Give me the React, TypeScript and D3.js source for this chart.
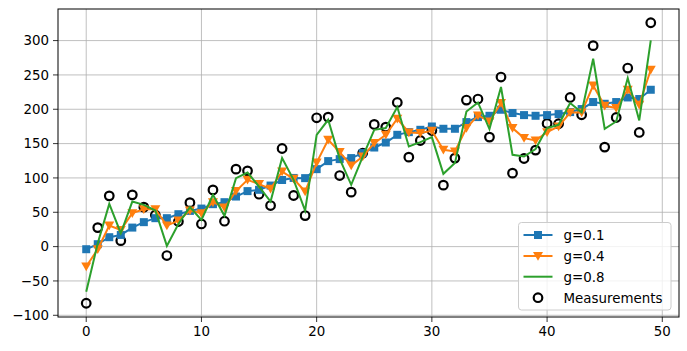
import React from 'react';
import * as d3 from 'd3';

// values
const measurements = [
  -82.5, 27.7, 73.9, 8.7, 75.4, 57.4, 46, -13, 36.5, 64,
  33, 82.6, 37, 112.8, 110.3, 76.3, 59.8, 142.9, 74.4, 45.2,
  187.6, 188.6, 103.5, 79.3, 136.2, 177.9, 174, 209.9, 130.3, 154.5,
  169, 89.5, 128.9, 213.4, 214.9, 159.5, 246.9, 107, 128.3, 140.5,
  179.3, 178.9, 217.2, 192, 292.6, 144.9, 188, 260, 166.2, 326,
];
const g01 = [
  -3.8, 3.5, 13.7, 17, 27.7, 35.6, 41.4, 41.4, 47.2, 52,
  55.4, 61.8, 64.7, 72.9, 80.8, 82.7, 88.9, 97, 100, 99.7,
  112.8, 124.5, 127.4, 128.9, 136.2, 144.3, 151.6, 162.8, 166.7, 170.1,
  174.9, 171.6, 171.6, 181.3, 188.6, 190.5, 199.3, 194.5, 191.5, 190.5,
  191.5, 193, 195.9, 200.3, 210.5, 208, 210.5, 217.2, 214.9, 228.4,
];
const g04 = [
  -29, -3.8, 30.6, 24.3, 48.7, 54.5, 54.5, 30.6, 37.9, 52.5,
  48.7, 64.7, 56.9, 80.8, 97.2, 91, 84.1, 109.3, 98.7, 80.2,
  122.4, 155.5, 137.6, 118.1, 131.2, 150.7, 162.8, 186.2, 166.2, 165.3,
  168.7, 141, 138.5, 172.6, 191, 182.2, 209, 172.6, 158, 154.5,
  166.7, 174.9, 195.3, 195.3, 234.7, 205.1, 201.7, 228.4, 206.6, 257.6,
];
const g08 = [
  -65.6, 5, 62.2, 19.5, 65.6, 60.8, 52.5, 1, 33, 57.4,
  38.9, 75.4, 44.8, 99.7, 107.9, 87.5, 65.6, 128.9, 97.2, 52.5,
  162.8, 184.7, 127.8, 90, 131.2, 170.1, 172.6, 203.2, 145.8, 152.2,
  159.5, 106, 121.6, 196.8, 209.9, 171.1, 232.4, 133.7, 131.2, 142,
  172.6, 177.4, 209, 195.3, 273.6, 171.6, 182.2, 245.5, 183.7, 300.3,
];
const xTicks = [0, 10, 20, 30, 40, 50];
const yTicks = [-100, -50, 0, 50, 100, 150, 200, 250, 300];
const legendLabels = ['g=0.1', 'g=0.4', 'g=0.8', 'Measurements'];

const W = 687;
const H = 351;
const left = 58;
const right = 679;
const top = 9;
const bottom = 317;

const BLUE = '#1f77b4';
const ORANGE = '#ff7f0e';
const GREEN = '#2ca02c';
const FONT = 'DejaVu Sans, sans-serif';
const FS = 13.4;

const x = d3.scaleLinear().domain([-2.45, 51.45]).range([left, right]);
const y = d3.scaleLinear().domain([-102.5, 346]).range([bottom, top]);

const lineOf = (vals: number[]) =>
  d3.line<number>().x((_, i) => x(i)).y((v) => y(v))(vals) || '';

const tri = (cx: number, cy: number, s = 5) =>
  `M${cx - s},${cy - s * 0.8}L${cx + s},${cy - s * 0.8}L${cx},${cy + s * 0.95}Z`;

const fmt = (t: number) => (t < 0 ? '\u2212' + Math.abs(t) : String(t));

export default function App() {
  const legX = 518.5;
  const legY = 222.5;
  const rows = [235, 256, 276.7, 297.7];
  return (
    <svg width={W} height={H} style={{ position: 'absolute', left: 0, top: 0, background: '#fff' }} fontFamily={FONT}>
      <rect width={W} height={H} fill="#fff" />
      {/* grid */}
      {xTicks.map((t) => (
        <line key={'gx' + t} x1={x(t)} x2={x(t)} y1={top} y2={bottom} stroke="#b0b0b0" strokeWidth={0.8} />
      ))}
      {yTicks.map((t) => (
        <line key={'gy' + t} x1={left} x2={right} y1={y(t)} y2={y(t)} stroke="#b0b0b0" strokeWidth={0.8} />
      ))}

      <clipPath id="plotclip">
        <rect x={left} y={top} width={right - left} height={bottom - top} />
      </clipPath>
      <g clipPath="url(#plotclip)">
        {measurements.map((v, i) => (
          <circle key={'m' + i} cx={x(i)} cy={y(v)} r={4.3} fill="none" stroke="#000" strokeWidth={2.2} />
        ))}
        <path d={lineOf(g01)} fill="none" stroke={BLUE} strokeWidth={2} />
        {g01.map((v, i) => (
          <rect key={'b' + i} x={x(i) - 4} y={y(v) - 4} width={8} height={8} fill={BLUE} />
        ))}
        <path d={lineOf(g04)} fill="none" stroke={ORANGE} strokeWidth={2} />
        {g04.map((v, i) => (
          <path key={'o' + i} d={tri(x(i), y(v))} fill={ORANGE} />
        ))}
        <path d={lineOf(g08)} fill="none" stroke={GREEN} strokeWidth={2} />
      </g>

      {/* axes frame */}
      <rect x={left} y={top} width={right - left} height={bottom - top} fill="none" stroke="#000" strokeWidth={1} />

      {xTicks.map((t) => (
        <g key={'xt' + t}>
          <line x1={x(t)} x2={x(t)} y1={bottom} y2={bottom + 5} stroke="#000" strokeWidth={0.8} />
          <text x={x(t)} y={bottom + 18.5} textAnchor="middle" fontSize={FS} fill="#000">
            {fmt(t)}
          </text>
        </g>
      ))}
      {yTicks.map((t) => (
        <g key={'yt' + t}>
          <line x1={left - 5} x2={left} y1={y(t)} y2={y(t)} stroke="#000" strokeWidth={0.8} />
          <text x={left - 9} y={y(t)} dy="0.36em" textAnchor="end" fontSize={FS} fill="#000">
            {fmt(t)}
          </text>
        </g>
      ))}

      {/* legend */}
      <rect x={legX} y={legY} width={152.5} height={87.5} rx={3} fill="#fff" fillOpacity={0.8} stroke="#cccccc" strokeWidth={1} />
      {legendLabels.map((lab, i) => {
        const cy = rows[i];
        const x1 = 523.5;
        const x2 = 552.5;
        const cx = (x1 + x2) / 2;
        return (
          <g key={lab}>
            {i === 0 && (
              <>
                <line x1={x1} x2={x2} y1={cy} y2={cy} stroke={BLUE} strokeWidth={2} />
                <rect x={cx - 4} y={cy - 4} width={8} height={8} fill={BLUE} />
              </>
            )}
            {i === 1 && (
              <>
                <line x1={x1} x2={x2} y1={cy} y2={cy} stroke={ORANGE} strokeWidth={2} />
                <path d={tri(cx, cy)} fill={ORANGE} />
              </>
            )}
            {i === 2 && <line x1={x1} x2={x2} y1={cy} y2={cy} stroke={GREEN} strokeWidth={2} />}
            {i === 3 && <circle cx={cx} cy={cy} r={4.3} fill="none" stroke="#000" strokeWidth={2.2} />}
            <text x={563.5} y={cy} dy="0.36em" fontSize={FS} fill="#000">
              {lab}
            </text>
          </g>
        );
      })}
    </svg>
  );
}
